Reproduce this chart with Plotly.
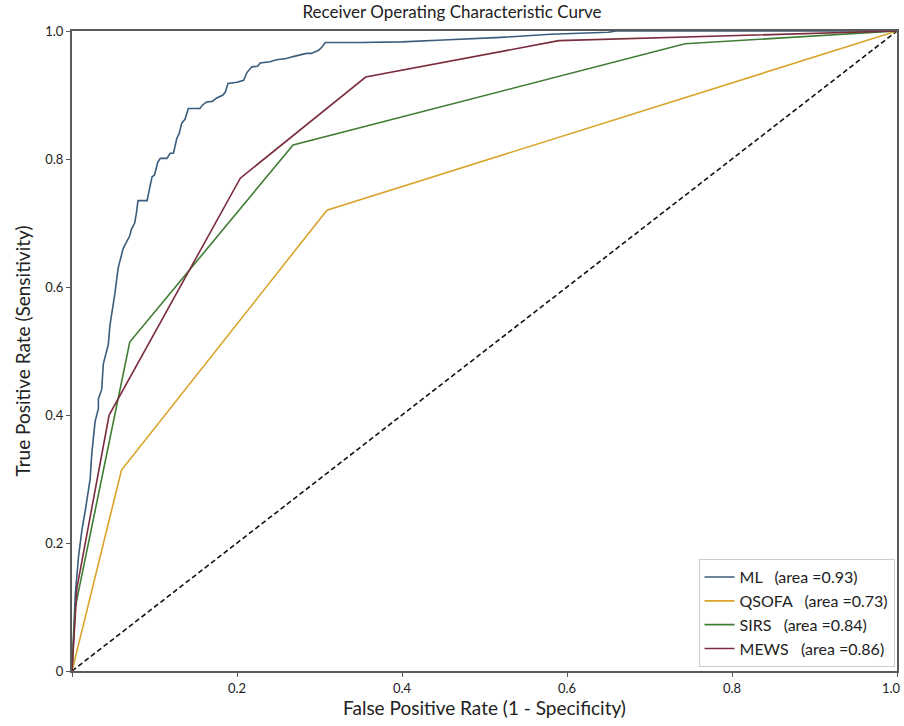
import plotly.graph_objects as go

# ---- data ----
ml_fpr = [0, 0.002, 0.004, 0.008, 0.012, 0.016, 0.02, 0.022, 0.024, 0.026, 0.028, 0.032, 0.032, 0.036,
          0.038, 0.042, 0.044, 0.046, 0.05, 0.052, 0.054, 0.056, 0.058, 0.062, 0.066, 0.07, 0.072, 0.076,
          0.078, 0.080, 0.091, 0.094, 0.097, 0.100, 0.104, 0.107, 0.115, 0.119, 0.123, 0.127, 0.130,
          0.133, 0.137, 0.141, 0.155, 0.158, 0.163, 0.170, 0.175, 0.183, 0.186, 0.189, 0.200, 0.208,
          0.212, 0.218, 0.225, 0.228, 0.240, 0.248, 0.260, 0.268, 0.276, 0.284, 0.290, 0.299, 0.303,
          0.307, 0.350, 0.400, 0.450, 0.520, 0.580, 0.650, 0.660, 1.0]
ml_tpr = [0, 0.06, 0.12, 0.18, 0.22, 0.25, 0.28, 0.30, 0.34, 0.37, 0.39, 0.41, 0.425, 0.44,
          0.48, 0.50, 0.51, 0.54, 0.57, 0.59, 0.61, 0.63, 0.64, 0.66, 0.67, 0.68, 0.69, 0.70,
          0.715, 0.735, 0.735, 0.755, 0.772, 0.775, 0.795, 0.801, 0.801, 0.809, 0.809, 0.832, 0.840,
          0.856, 0.862, 0.879, 0.879, 0.884, 0.889, 0.890, 0.895, 0.900, 0.905, 0.918, 0.920, 0.923,
          0.935, 0.944, 0.945, 0.950, 0.952, 0.955, 0.957, 0.960, 0.962, 0.965, 0.965, 0.970, 0.975,
          0.982, 0.982, 0.983, 0.986, 0.990, 0.995, 0.998, 1.0, 1.0]

qsofa_fpr = [0, 0.060, 0.309, 1.0]
qsofa_tpr = [0, 0.314, 0.720, 1.0]

sirs_fpr = [0, 0.004, 0.070, 0.268, 0.743, 1.0]
sirs_tpr = [0, 0.10, 0.514, 0.822, 0.980, 1.0]

mews_fpr = [0, 0.006, 0.045, 0.204, 0.356, 0.590, 1.0]
mews_tpr = [0, 0.13, 0.400, 0.770, 0.928, 0.985, 1.0]

chance = [0, 1]

names = ["ML&nbsp;&nbsp; (area =0.93)", "QSOFA&nbsp;&nbsp; (area =0.73)",
         "SIRS&nbsp;&nbsp; (area =0.84)", "MEWS&nbsp;&nbsp; (area =0.86)"]
colors = ["#3a5d7e", "#d9a42a", "#3f7d33", "#7a2c3c"]

tick_vals = [0, 0.2, 0.4, 0.6, 0.8, 1.0]
x_tick_text = ["", "0.2", "0.4", "0.6", "0.8", ""]
x_last_label = "1.0"
y_tick_text = ["0", "0.2", "0.4", "0.6", "0.8", "1.0"]

FONT = "Lato, 'Open Sans', sans-serif"

fig = go.Figure()
fig.add_trace(go.Scatter(x=chance, y=chance, mode="lines", showlegend=False,
                         line=dict(color="#111111", width=1.6, dash="5px,3px")))
series = [(ml_fpr, ml_tpr), (qsofa_fpr, qsofa_tpr), (sirs_fpr, sirs_tpr), (mews_fpr, mews_tpr)]
for (xs, ys), nm, c in zip(series, names, colors):
    fig.add_trace(go.Scatter(x=xs, y=ys, mode="lines", name=nm,
                             line=dict(color=c, width=1.6)))

axis_common = dict(range=[0, 1], showgrid=False, zeroline=False, showline=True, mirror=True,
                   linecolor="#5a5a5a", linewidth=2, ticks="outside", ticklen=4,
                   tickcolor="#5a5a5a", tickfont=dict(family=FONT, size=13, color="#222"),
                   tickvals=tick_vals, automargin=False)

fig.add_annotation(text=x_last_label, x=tick_vals[-1], xref="x", y=0, yref="paper",
                   xanchor="right", yanchor="top", xshift=6, yshift=-7, showarrow=False,
                   font=dict(family=FONT, size=13, color="#222"))

fig.update_layout(
    width=904, height=726,
    margin=dict(l=72, r=7, t=31, b=55),
    paper_bgcolor="white", plot_bgcolor="white",
    font=dict(family=FONT, color="#222"),
    title=dict(text="Receiver Operating Characteristic Curve", x=0.5, xanchor="center",
               y=0.983, yanchor="middle", font=dict(family=FONT, size=17, color="#222")),
    xaxis=dict(**axis_common, ticktext=x_tick_text,
               title=dict(text="False Positive Rate (1 - Specificity)", standoff=6,
                          font=dict(family=FONT, size=19, color="#222"))),
    yaxis=dict(**axis_common, ticktext=y_tick_text,
               title=dict(text="True Positive Rate (Sensitivity)", standoff=10,
                          font=dict(family=FONT, size=19, color="#222"))),
    legend=dict(x=0.997, y=0.006, xanchor="right", yanchor="bottom",
                bgcolor="white", bordercolor="#cccccc", borderwidth=1,
                font=dict(family=FONT, size=16, color="#222"), tracegroupgap=0),
)

fig.write_html("out.html")
